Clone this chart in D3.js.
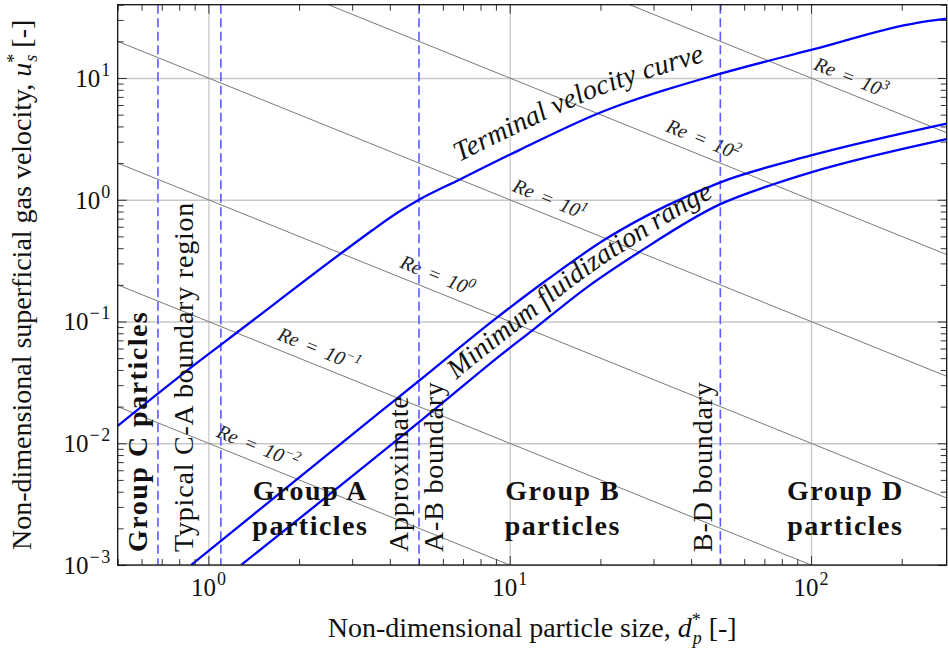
<!DOCTYPE html>
<html>
<head>
<meta charset="utf-8">
<script src="https://cdn.jsdelivr.net/npm/d3@7"></script>
<style>
	body { margin: 0; background: #fff; }
	svg { display: block; font-family: "Liberation Serif", "Times New Roman", serif; }
	.grid line { stroke: #c8c8c8; stroke-width: 1.3; }
	.tick-axis line { stroke: #333; stroke-width: 1; }
	.re-line { fill: none; stroke: #7a7a7a; stroke-width: 1; }
	.re-label { font-size: 20px; font-style: italic; fill: #222; }
	.boundary-line { stroke: #5a5aff; stroke-width: 1.6; stroke-dasharray: 9,4.5; }
	.curve { fill: none; stroke: #0000ff; stroke-width: 2.3; }
	.curve-label { font-size: 28px; font-style: italic; fill: #111; }
	.tick-label { font-size: 25px; fill: #111; }
	.axis-label { font-size: 28px; fill: #111; }
	.group-label { font-size: 28px; font-weight: bold; fill: #111; letter-spacing: 1.5px; }
	.region-label { font-size: 28px; fill: #111; letter-spacing: 0.8px; }
</style>
</head>
<body>
<svg id="chart" width="948" height="650"></svg>
<script>

//////////////////////// Data ////////////////////////

var xDomain = [0.5, 282],
	yDomain = [0.001, 40];

var xMajor = [1, 10, 100],
	xMajorExp = ["0", "1", "2"];
var yMajor = [0.001, 0.01, 0.1, 1, 10],
	yMajorExp = ["\u22123", "\u22122", "\u22121", "0", "1"];

//Constant particle Reynolds number lines
var reValues = [0.01, 0.1, 1, 10, 100, 1000],
	reExponents = ["\u22122", "\u22121", "0", "1", "2", "3"],
	reLabelD = [1.4, 2.23, 5.5, 13, 42, 130];

//Terminal velocity curve
var terminalD = [0.5, 0.93, 1.25, 2.8, 3.5, 4.3, 5.0, 6.8, 10.8, 19.9, 49.7, 100, 225, 282],
	terminalU = [0.0139, 0.047, 0.082, 0.374, 0.562, 0.80, 1.0, 1.46, 2.57, 5.18, 10.8, 17.0, 28.4, 30.7];

//Minimum fluidization range, upper and lower bounds
var mfUpperD = [0.876, 3.7, 5.0, 9.0, 13.2, 21, 33.2, 50, 100, 282],
	mfUpperU = [0.001, 0.0179, 0.0326, 0.106, 0.217, 0.482, 0.895, 1.39, 2.31, 4.22];
var mfLowerD = [1.284, 5.7, 9.26, 11.95, 18.0, 27.0, 50, 75, 100, 282],
	mfLowerU = [0.001, 0.0194, 0.0522, 0.0855, 0.19, 0.374, 0.92, 1.34, 1.68, 3.15];

//Group boundaries (dashed)
var boundaryD = [0.68, 1.1, 5, 50];

//Horizontal group labels
var groupNames = ["Group A", "Group B", "Group D"],
	groupD = [2.18, 15, 130],
	groupLineU = [0.0034, 0.00177];

//Vertical labels
var vertTexts = ["Group C particles", "Typical C-A boundary region", "Approximate", "A-B boundary", "B-D boundary"],
	vertD = [0.626, 0.892, 4.6, 6.01, 46.9],
	vertBold = [true, false, false, false, false],
	vertStartU = 0.00128;

//////////////////////// Setup ////////////////////////

var margin = {top: 4.7, right: 1.3, bottom: 85, left: 117.7},
	width = 948,
	height = 650,
	plotW = width - margin.left - margin.right,
	plotH = height - margin.top - margin.bottom;

var svg = d3.select("#chart");

svg.append("defs").append("clipPath")
	.attr("id", "plot-clip")
	.append("rect")
	.attr("width", plotW)
	.attr("height", plotH);

var g = svg.append("g").attr("transform", "translate(" + margin.left + "," + margin.top + ")");

var x = d3.scaleLog().domain(xDomain).range([0, plotW]);
var y = d3.scaleLog().domain(yDomain).range([plotH, 0]);

/////////////////////// Grid //////////////////////////

g.append("g")
	.attr("class", "grid")
	.attr("transform", "translate(0," + plotH + ")")
	.call(d3.axisBottom(x).tickValues(xMajor).tickSize(-plotH).tickFormat(""))
	.call(function(s) { s.select(".domain").remove(); });

g.append("g")
	.attr("class", "grid")
	.call(d3.axisLeft(y).tickValues(yMajor).tickSize(-plotW).tickFormat(""))
	.call(function(s) { s.select(".domain").remove(); });

var plot = g.append("g").attr("clip-path", "url(#plot-clip)");

var line = d3.line()
	.x(function(p) { return x(p[0]); })
	.y(function(p) { return y(p[1]); });

/////////////////////// Re lines //////////////////////////

plot.selectAll(".re-line")
	.data(reValues)
	.enter().append("path")
	.attr("class", "re-line")
	.attr("d", function(re) { return line([[xDomain[0], re / xDomain[0]], [xDomain[1], re / xDomain[1]]]); });

var reAngle = Math.atan2(y(0.1) - y(1), x(10) - x(1)) * 180 / Math.PI;

var reLabel = plot.selectAll(".re-label")
	.data(reValues)
	.enter().append("text")
	.attr("class", "re-label")
	.attr("transform", function(re, i) {
		return "translate(" + x(reLabelD[i]) + "," + y(re / reLabelD[i]) + ") rotate(" + reAngle + ")";
	})
	.attr("dy", -9)
	.style("text-anchor", "middle");
reLabel.append("tspan").text("Re");
reLabel.append("tspan").style("font-style", "normal").text(" \u2009=\u2009 ");
reLabel.append("tspan").text("10");
reLabel.append("tspan")
	.attr("dy", -8)
	.style("font-size", "14px")
	.text(function(re, i) { return reExponents[i]; });

/////////////////////// Boundaries //////////////////////////

plot.selectAll(".boundary-line")
	.data(boundaryD)
	.enter().append("line")
	.attr("class", "boundary-line")
	.attr("x1", function(d) { return x(d); })
	.attr("x2", function(d) { return x(d); })
	.attr("y1", 0)
	.attr("y2", plotH);

/////////////////////// Curves //////////////////////////

var curve = d3.line()
	.x(function(p) { return x(p[0]); })
	.y(function(p) { return y(p[1]); })
	.curve(d3.curveMonotoneX);

plot.append("path")
	.attr("class", "curve")
	.attr("id", "terminal-path")
	.attr("d", curve(d3.zip(terminalD, terminalU)));

plot.append("path")
	.attr("class", "curve")
	.attr("id", "mf-upper-path")
	.attr("d", curve(d3.zip(mfUpperD, mfUpperU)));

plot.append("path")
	.attr("class", "curve")
	.attr("id", "mf-lower-path")
	.attr("d", curve(d3.zip(mfLowerD, mfLowerU)));

//Find the length along a path where it reaches a given x
function lengthAtX(node, targetX) {
	var lo = 0, hi = node.getTotalLength();
	for (var k = 0; k < 40; k++) {
		var mid = (lo + hi) / 2;
		if (node.getPointAtLength(mid).x < targetX) lo = mid; else hi = mid;
	}
	return lo;
}

var terminalNode = d3.select("#terminal-path").node(),
	mfLowerNode = d3.select("#mf-lower-path").node();

plot.append("text")
	.attr("class", "curve-label")
	.attr("dy", -16)
	.append("textPath")
	.attr("href", "#terminal-path")
	.attr("startOffset", lengthAtX(terminalNode, 466 - margin.left))
	.text("Terminal velocity curve");

plot.append("text")
	.attr("class", "curve-label")
	.attr("dy", -9)
	.append("textPath")
	.attr("href", "#mf-lower-path")
	.attr("startOffset", lengthAtX(mfLowerNode, 462 - margin.left))
	.text("Minimum fluidization range");

/////////////////////// Region labels //////////////////////////

groupNames.forEach(function(name, i) {
	g.append("text")
		.attr("class", "group-label")
		.attr("x", x(groupD[i]))
		.attr("y", y(groupLineU[0]))
		.style("text-anchor", "middle")
		.text(name);
	g.append("text")
		.attr("class", "group-label")
		.attr("x", x(groupD[i]))
		.attr("y", y(groupLineU[1]))
		.style("text-anchor", "middle")
		.text("particles");
});

g.selectAll(".vert-label")
	.data(vertTexts)
	.enter().append("text")
	.attr("class", function(d, i) { return vertBold[i] ? "group-label" : "region-label"; })
	.attr("transform", function(d, i) { return "translate(" + x(vertD[i]) + "," + y(vertStartU) + ") rotate(-90)"; })
	.text(function(d) { return d; });

/////////////////////// Ticks & frame //////////////////////////

function minorOf(scale, majors) {
	return scale.ticks().filter(function(v) {
		return majors.every(function(m) { return Math.abs(v / m - 1) > 1e-6; });
	});
}
var xMinor = minorOf(x, xMajor),
	yMinor = minorOf(y, yMajor);

function addTicks(axis, transform) {
	g.append("g")
		.attr("class", "tick-axis")
		.attr("transform", transform)
		.call(axis.tickFormat(""))
		.call(function(s) { s.select(".domain").remove(); });
}
addTicks(d3.axisBottom(x).tickValues(xMajor).tickSize(-9), "translate(0," + plotH + ")");
addTicks(d3.axisBottom(x).tickValues(xMinor).tickSize(-6), "translate(0," + plotH + ")");
addTicks(d3.axisTop(x).tickValues(xMajor).tickSize(-9), "translate(0,0)");
addTicks(d3.axisTop(x).tickValues(xMinor).tickSize(-6), "translate(0,0)");
addTicks(d3.axisLeft(y).tickValues(yMajor).tickSize(-9), "translate(0,0)");
addTicks(d3.axisLeft(y).tickValues(yMinor).tickSize(-6), "translate(0,0)");
addTicks(d3.axisRight(y).tickValues(yMajor).tickSize(-9), "translate(" + plotW + ",0)");
addTicks(d3.axisRight(y).tickValues(yMinor).tickSize(-6), "translate(" + plotW + ",0)");

g.append("rect")
	.attr("width", plotW)
	.attr("height", plotH)
	.style("fill", "none")
	.style("stroke", "#111")
	.style("stroke-width", 1.3);

//Tick labels
var xTickLabel = g.selectAll(".x-tick-label")
	.data(xMajor)
	.enter().append("text")
	.attr("class", "tick-label")
	.attr("x", function(d) { return x(d); })
	.attr("y", plotH + 31)
	.style("text-anchor", "middle");
xTickLabel.append("tspan").text("10");
xTickLabel.append("tspan")
	.attr("dx", 1)
	.attr("dy", -11)
	.style("font-size", "18px")
	.text(function(d, i) { return xMajorExp[i]; });

var yTickLabel = g.selectAll(".y-tick-label")
	.data(yMajor)
	.enter().append("text")
	.attr("class", "tick-label")
	.attr("x", -6)
	.attr("y", function(d) { return y(d) + 9; })
	.style("text-anchor", "end");
yTickLabel.append("tspan").text("10");
yTickLabel.append("tspan")
	.attr("dx", 1)
	.attr("dy", -11)
	.style("font-size", "18px")
	.style("letter-spacing", "1.5px")
	.text(function(d, i) { return yMajorExp[i]; });

//Axis titles
var xTitle = svg.append("text")
	.attr("class", "axis-label")
	.attr("x", margin.left + plotW / 2)
	.attr("y", 637)
	.style("text-anchor", "middle");
xTitle.append("tspan").text("Non-dimensional particle size, ");
xTitle.append("tspan").style("font-style", "italic").text("d");
xTitle.append("tspan").attr("dy", -11).style("font-size", "18px").text("*");
xTitle.append("tspan").attr("dx", -8).attr("dy", 18).style("font-size", "18px").style("font-style", "italic").text("p");
xTitle.append("tspan").attr("dy", -7).text(" [-]");

var yTitle = svg.append("text")
	.attr("class", "axis-label")
	.attr("transform", "translate(31," + (margin.top + plotH / 2) + ") rotate(-90)")
	.style("text-anchor", "middle");
yTitle.append("tspan").text("Non-dimensional superficial gas velocity, ");
yTitle.append("tspan").style("font-style", "italic").text("u");
yTitle.append("tspan").attr("dy", -11).style("font-size", "18px").text("*");
yTitle.append("tspan").attr("dx", -8).attr("dy", 17).style("font-size", "18px").style("font-style", "italic").text("s");
yTitle.append("tspan").attr("dy", -6).text(" [-]");

</script>
</body>
</html>
